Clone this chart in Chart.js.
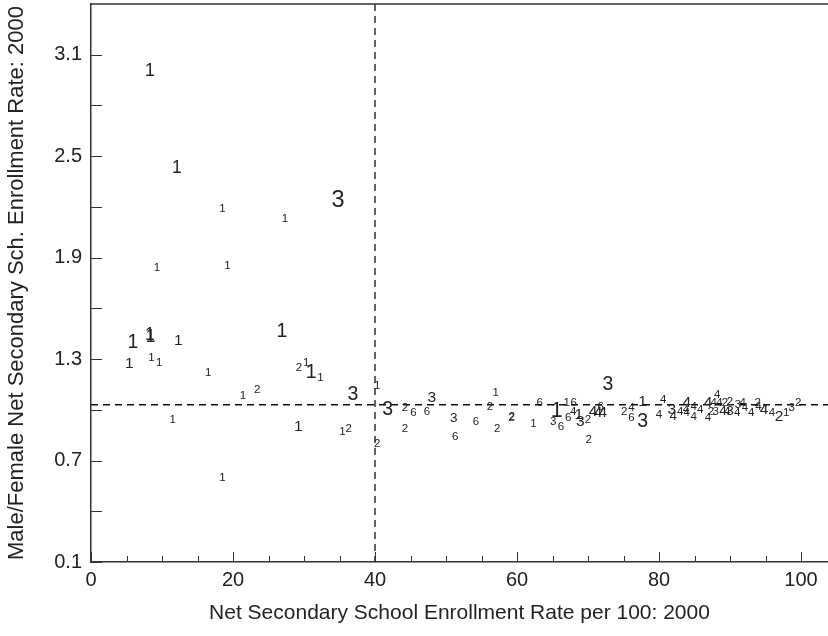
<!DOCTYPE html>
<html>
<head>
<meta charset="utf-8">
<script src="https://cdn.jsdelivr.net/npm/chart.js@4.4.1/dist/chart.umd.min.js"></script>
<style>
  html, body { margin: 0; padding: 0; background: #fff; }
  #wrap { width: 828px; height: 636px; }
</style>
</head>
<body>
<div id="wrap"><canvas id="chart" width="828" height="636"></canvas></div>
<script>
// ---- data ----
const xTitle = "Net Secondary School Enrollment Rate per 100: 2000";
const yTitle = "Male/Female Net Secondary Sch. Enrollment Rate: 2000";

const xTicks      = [0,5,10,15,20,25,30,35,40,45,50,55,60,65,70,75,80,85,90,95,100];
const xTickLabels = ["0","20","40","60","80","100"];
const yTicks      = [0.1,0.4,0.7,1.0,1.3,1.6,1.9,2.2,2.5,2.8,3.1];
const yTickLabels = ["0.1","0.7","1.3","1.9","2.5","3.1"];

// reference lines
const xRef = 40;
const yRef = 1.03;

// each country: enrollment rate, male/female ratio, group digit, size weight
const ptX = [8.3,12.1,18.5,27.3,34.8,9.3,19.2,5.9,8.3,8.4,12.3,5.4,8.5,9.6,16.5,26.9,29.3,30.3,31.0,32.3,
  21.4,23.4,36.9,40.3,41.8,11.5,29.2,35.4,36.3,40.3,18.5,44.2,45.4,44.2,48.0,47.3,51.1,51.3,54.2,57.0,
  56.2,57.2,59.2,59.3,62.3,63.2,65.6,65.1,66.2,67.0,68.0,67.2,67.9,68.7,68.9,70.0,70.7,71.4,72.1,71.8,
  70.1,72.8,75.1,76.1,76.1,77.7,77.7,80.6,80.0,81.8,82.0,83.0,83.9,83.8,83.9,84.9,84.9,85.8,86.9,87.3,
  86.9,88.2,87.7,88.5,88.0,89.0,89.3,89.6,90.0,90.0,91.0,91.1,91.8,92.1,93.0,93.9,94.0,94.8,95.9,96.9,
  97.9,98.7,99.6];
const ptY = [3.00,2.43,2.19,2.13,2.24,1.84,1.85,1.40,1.44,1.43,1.41,1.27,1.31,1.28,1.22,1.46,1.25,1.28,1.22,1.19,
  1.08,1.12,1.09,1.14,1.00,0.94,0.90,0.87,0.89,0.80,0.60,1.01,0.98,0.89,1.07,0.99,0.95,0.84,0.93,1.10,
  1.02,0.89,0.95,0.96,0.92,1.04,0.99,0.93,0.90,1.04,1.04,0.95,0.99,0.97,0.93,0.94,0.99,0.98,0.98,1.02,
  0.82,1.15,0.99,1.01,0.95,1.05,0.93,1.06,0.97,1.00,0.96,0.99,1.04,1.00,0.98,1.02,0.96,1.00,1.04,0.99,
  0.95,1.09,1.04,1.04,0.99,0.99,1.04,0.99,1.05,0.99,0.98,1.03,1.04,1.01,0.98,1.04,1.02,1.00,0.98,0.96,
  0.98,1.01,1.04];
const ptGroup = [1,1,1,1,3,1,1,1,1,1,1,1,1,1,1,1,2,1,1,1,
  1,2,3,1,3,1,1,1,2,2,1,2,6,2,3,6,3,6,6,1,
  2,2,2,2,1,6,1,3,6,1,6,6,4,1,3,2,4,4,4,6,
  2,3,2,4,6,1,3,4,4,3,4,4,4,4,4,4,4,4,4,2,
  4,4,4,4,3,4,2,4,2,3,4,3,4,4,4,2,4,4,4,2,
  1,3,2];
const ptWeight = [2.5,2.5,1,1,4,1,1,3,2.5,2.5,2,2,1,1,1,3,1,1,3,1,
  1,1,3,1,3,1,2,1,1,1,1,1,1,1,2,1,1.5,1,1,1,
  1,1,1,1,1,1,3.5,1,1,1,1,1,1,2,2,1,2,2,2,1,
  1,3,1,1,1,2,3,1,1,2,1.5,1,2,1,1,1,1,1,2,1,
  1,1,1,1,1,1.5,1,1,1,1.5,1,1,1,1,1,1,1,2,1,2,
  1,1,1];

// ---- drawing ----
const FONT = "'Liberation Sans', Arial, Helvetica, sans-serif";
const INK  = "#222";

const fontFor = w => 7.5 + 4 * w;

// digits drawn as the markers
const digitMarks = {
  id: "digitMarks",
  afterDatasetsDraw(chart) {
    const ctx  = chart.ctx;
    const meta = chart.getDatasetMeta(0);
    ctx.save();
    ctx.fillStyle = INK;
    ctx.textAlign = "center";
    ctx.textBaseline = "middle";
    meta.data.forEach((el, i) => {
      ctx.font = fontFor(ptWeight[i]) + "px " + FONT;
      ctx.fillText(String(ptGroup[i]), el.x, el.y);
    });
    ctx.restore();
  }
};

// inward ticks, top frame line and the dashed reference lines
const frame = {
  id: "frame",
  beforeDatasetsDraw(chart) {
    const { ctx, chartArea: a, scales: { x, y } } = chart;
    ctx.save();
    ctx.strokeStyle = "#111";
    ctx.lineWidth = 1.3;
    ctx.setLineDash([7, 5]);
    ctx.beginPath();
    const rx = x.getPixelForValue(xRef);
    ctx.moveTo(rx, a.top); ctx.lineTo(rx, a.bottom);
    const ry = y.getPixelForValue(yRef);
    ctx.moveTo(a.left, ry); ctx.lineTo(a.right, ry);
    ctx.stroke();
    ctx.restore();
  },
  afterDraw(chart) {
    const { ctx, chartArea: a, scales: { x, y } } = chart;
    ctx.save();
    ctx.strokeStyle = "#333";
    ctx.lineWidth = 1;
    ctx.beginPath();
    xTicks.forEach(v => {
      const px = Math.round(x.getPixelForValue(v)) + 0.5;
      const len = v % 20 === 0 ? 10 : 6;
      ctx.moveTo(px, a.bottom); ctx.lineTo(px, a.bottom - len);
    });
    yTicks.forEach(v => {
      const py = Math.round(y.getPixelForValue(v)) + 0.5;
      ctx.moveTo(a.left, py); ctx.lineTo(a.left + 11, py);
    });
    ctx.stroke();
    ctx.lineWidth = 1.5;
    ctx.beginPath();
    ctx.moveTo(a.left, a.top); ctx.lineTo(a.right, a.top);
    ctx.stroke();
    ctx.restore();
  }
};

new Chart(document.getElementById("chart"), {
  type: "scatter",
  data: {
    datasets: [{
      data: ptX.map((v, i) => ({ x: v, y: ptY[i] })),
      pointRadius: 0,
      pointHoverRadius: 0
    }]
  },
  options: {
    responsive: false,
    animation: false,
    events: [],
    layout: { padding: { top: 4, right: 0, left: 0, bottom: 0 } },
    plugins: { legend: { display: false }, tooltip: { enabled: false } },
    scales: {
      x: {
        type: "linear",
        min: 0,
        max: 103.8,
        afterBuildTicks: s => { s.ticks = xTicks.map(v => ({ value: v })); },
        afterFit: s => { s.height = 74; s.paddingLeft = 0; s.paddingRight = 0; },
        grid: { drawOnChartArea: false, drawTicks: false },
        border: { display: true, color: "#333", width: 1.5 },
        ticks: {
          autoSkip: false,
          maxRotation: 0,
          padding: 6,
          color: INK,
          font: { family: FONT, size: 20 },
          callback: v => (v % 20 === 0 ? xTickLabels[v / 20] : "")
        },
        title: {
          display: true,
          text: xTitle,
          color: INK,
          font: { family: FONT, size: 21 },
          padding: { top: 0, bottom: 10 }
        }
      },
      y: {
        type: "linear",
        min: 0.1,
        max: 3.40,
        afterBuildTicks: s => { s.ticks = yTicks.map(v => ({ value: v })); },
        afterFit: s => { s.width = 91; s.paddingTop = 0; s.paddingBottom = 0; },
        grid: { drawOnChartArea: false, drawTicks: false },
        border: { display: true, color: "#333", width: 1.5 },
        ticks: {
          autoSkip: false,
          padding: 9,
          color: INK,
          font: { family: FONT, size: 20 },
          callback: (v, i) => (i % 2 === 0 ? yTickLabels[i / 2] : "")
        },
        title: {
          display: true,
          text: yTitle,
          color: INK,
          font: { family: FONT, size: 22 },
          padding: { top: 4, bottom: 0 }
        }
      }
    }
  },
  plugins: [frame, digitMarks]
});
</script>
</body>
</html>
